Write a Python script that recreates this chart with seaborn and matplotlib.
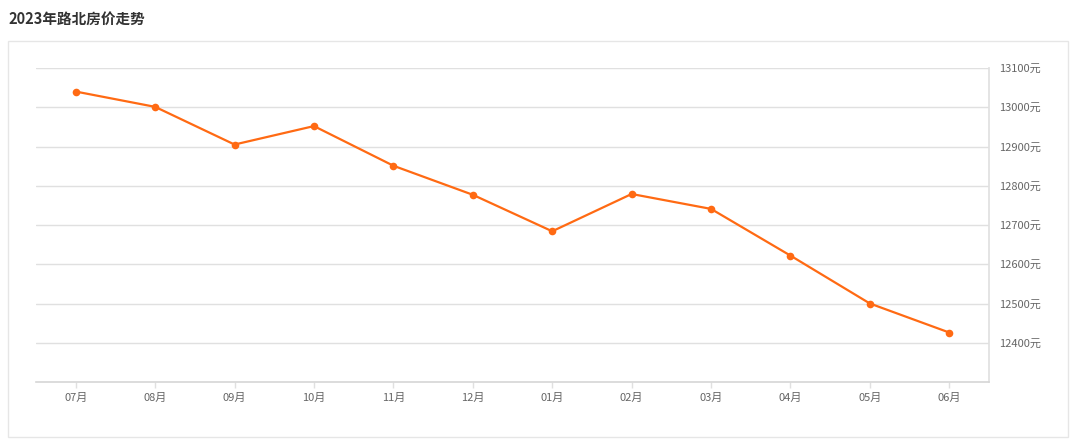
import pandas as pd
import matplotlib
matplotlib.use("Agg")
import matplotlib.pyplot as plt
import seaborn as sns
from matplotlib.patches import Rectangle

# 数据
months = ['07月', '08月', '09月', '10月', '11月', '12月',
          '01月', '02月', '03月', '04月', '05月', '06月']
prices = [13040, 13001, 12905, 12952, 12851, 12777,
          12684, 12779, 12741, 12622, 12500, 12426]
y_ticks = [12400, 12500, 12600, 12700, 12800, 12900, 13000, 13100]

df = pd.DataFrame({'month': months, 'price': prices})

sns.set_theme(style="white")
plt.rcParams['font.family'] = ['Noto Sans CJK SC', 'DejaVu Sans']

fig = plt.figure(figsize=(10.8, 4.44), dpi=100)
fig.patch.set_facecolor('white')

# 外框
fig.add_artist(Rectangle((8 / 1080, 1 - 437 / 444), (1068 - 8) / 1080, (437 - 41) / 444,
                         transform=fig.transFigure, fill=False, edgecolor='#e6e6e6', linewidth=1))

fig.text(8 / 1080, 1 - 19 / 444, '2023年路北房价走势', fontsize=10.5, fontweight='bold',
         color='#333333', va='center', ha='left')

ax = fig.add_axes([36 / 1080, 1 - 382 / 444, (989 - 36) / 1080, (382 - 68) / 444])
sns.lineplot(data=df, x='month', y='price', sort=False, ax=ax, color='#ff6a13',
             linewidth=1.6, marker='o', markersize=5.5, markeredgewidth=0)

ax.set_xlim(-0.5, len(months) - 0.5)
ax.set_ylim(12300, 13100)
ax.set_yticks(y_ticks)
ax.set_yticklabels([f'{v}元' for v in y_ticks])
ax.yaxis.tick_right()
ax.yaxis.grid(True, color='#e0e0e0', linewidth=1)
ax.set_axisbelow(True)
ax.set_xlabel('')
ax.set_ylabel('')

for s in ['top', 'left']:
    ax.spines[s].set_visible(False)
ax.spines['right'].set_color('#e0e0e0')
ax.spines['bottom'].set_color('#d6d6d6')
ax.spines['bottom'].set_linewidth(1.2)

ax.tick_params(axis='y', length=0, pad=7, labelsize=8, labelcolor='#666666')
ax.tick_params(axis='x', length=4, color='#e0e0e0', width=1, pad=4,
               labelsize=8, labelcolor='#666666', bottom=True)

fig.savefig('out.png', dpi=100, facecolor='white')
